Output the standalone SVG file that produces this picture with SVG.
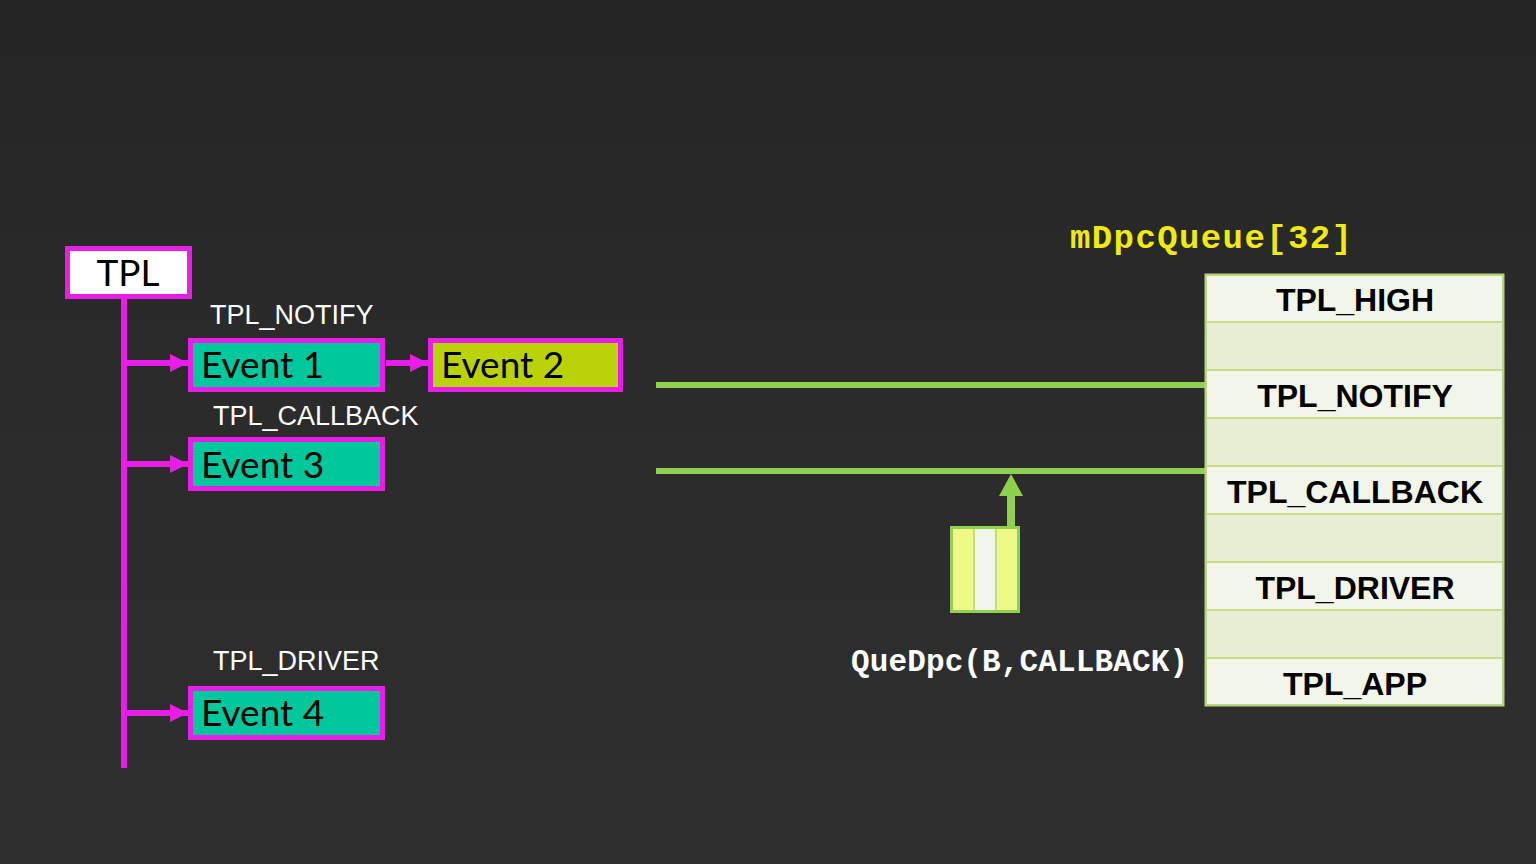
<svg xmlns="http://www.w3.org/2000/svg" width="1536" height="864" viewBox="0 0 1536 864">
  <defs>
    <linearGradient id="bg" x1="0" y1="0" x2="0" y2="1">
      <stop offset="0" stop-color="#252525"/>
      <stop offset="0.45" stop-color="#2b2b2b"/>
      <stop offset="1" stop-color="#2f2f2f"/>
    </linearGradient>
    <marker id="mag" viewBox="0 0 18 18" refX="18" refY="9" markerWidth="18" markerHeight="18" markerUnits="userSpaceOnUse" orient="auto">
      <path d="M0,0 L18,9 L0,18 Z" fill="#e81ee8"/>
    </marker>
    <style>
      .ev { stroke: #e81ee8; stroke-width: 5; }
      .evt { font-family: Lato, "Open Sans", sans-serif; font-size: 37px; fill: #000; }
      .lbl { font-family: "Liberation Sans", Arial, sans-serif; font-size: 27px; fill: #fff; }
      .mag { stroke: #e81ee8; stroke-width: 6; fill: none; }
      .grn { stroke: #8fd050; stroke-width: 6; fill: none; }
      .rowA { fill: #f2f6e8; stroke: #c8dc8c; stroke-width: 2; }
      .rowB { fill: #e6edd2; stroke: #c8dc8c; stroke-width: 2; }
      .rt { font-family: "Liberation Sans", Arial, sans-serif; font-weight: bold; font-size: 32px; fill: #000; text-anchor: middle; }
      .mono { font-family: "Liberation Mono", "Courier New", monospace; font-weight: bold; }
    </style>
  </defs>

  <rect x="0" y="0" width="1536" height="864" fill="url(#bg)"/>

  <g id="connectors">
    <line class="mag" x1="124" y1="299" x2="124" y2="768"/>
    <line class="mag" x1="124" y1="363" x2="188" y2="363" marker-end="url(#mag)"/>
    <line class="mag" x1="124" y1="464" x2="188" y2="464" marker-end="url(#mag)"/>
    <line class="mag" x1="124" y1="713" x2="188" y2="713" marker-end="url(#mag)"/>
    <line class="mag" x1="386" y1="363" x2="428" y2="363" marker-end="url(#mag)"/>
    <line class="grn" x1="656" y1="385" x2="1206" y2="385"/>
    <line class="grn" x1="656" y1="471" x2="1206" y2="471"/>
    <line x1="1011" y1="527" x2="1011" y2="494" stroke="#8fd050" stroke-width="8"/>
    <polygon points="999,496 1023,496 1011,474" fill="#8fd050"/>
  </g>

  <g id="tpl">
    <rect x="67.5" y="248.5" width="122" height="48" fill="#fff" class="ev"/>
    <text x="128" y="286" text-anchor="middle" class="evt">TPL</text>
  </g>

  <g id="labels">
    <text x="210" y="324" class="lbl">TPL_NOTIFY</text>
    <text x="213" y="425" class="lbl">TPL_CALLBACK</text>
    <text x="213" y="670" class="lbl">TPL_DRIVER</text>
  </g>

  <g id="event1">
    <rect x="190.5" y="340.5" width="192" height="49" fill="#00c89c" class="ev"/>
    <text x="201" y="378" class="evt">Event 1</text>
  </g>
  <g id="event2">
    <rect x="430.5" y="340.5" width="190" height="49" fill="#bad208" class="ev"/>
    <text x="441" y="378" class="evt">Event 2</text>
  </g>
  <g id="event3">
    <rect x="190.5" y="439.5" width="192" height="49" fill="#00c89c" class="ev"/>
    <text x="201" y="478" class="evt">Event 3</text>
  </g>
  <g id="event4">
    <rect x="190.5" y="688.5" width="192" height="49" fill="#00c89c" class="ev"/>
    <text x="201" y="726" class="evt">Event 4</text>
  </g>

  <g id="dpc">
    <rect x="952" y="528" width="66" height="83" fill="#f0f7e4" stroke="#8fd050" stroke-width="4"/>
    <rect x="953" y="529" width="20" height="81" fill="#eefa86"/>
    <rect x="975" y="529" width="20" height="81" fill="#f2f6e8"/>
    <rect x="997" y="529" width="20" height="81" fill="#eefa86"/>
    <line x1="974" y1="529" x2="974" y2="610" stroke="#c8dc70" stroke-width="2"/>
    <line x1="996" y1="529" x2="996" y2="610" stroke="#c8dc70" stroke-width="2"/>
    <text x="851" y="671" class="mono" font-size="31" fill="#fff" textLength="337" lengthAdjust="spacing">QueDpc(B,CALLBACK)</text>
  </g>

  <g id="queue">
    <text x="1070" y="248" class="mono" font-size="34" fill="#f0ea10" textLength="282" lengthAdjust="spacing">mDpcQueue[32]</text>
    <rect class="rowA" x="1206" y="275" width="297" height="47"/>
    <rect class="rowB" x="1206" y="322" width="297" height="48"/>
    <rect class="rowA" x="1206" y="370" width="297" height="48"/>
    <rect class="rowB" x="1206" y="418" width="297" height="48"/>
    <rect class="rowA" x="1206" y="466" width="297" height="48"/>
    <rect class="rowB" x="1206" y="514" width="297" height="48"/>
    <rect class="rowA" x="1206" y="562" width="297" height="48"/>
    <rect class="rowB" x="1206" y="610" width="297" height="48"/>
    <rect class="rowA" x="1206" y="658" width="297" height="47"/>
    <rect x="1205.5" y="274.5" width="298" height="431" fill="none" stroke="#b4d47c" stroke-width="2"/>
    <text class="rt" x="1355" y="311">TPL_HIGH</text>
    <text class="rt" x="1355" y="407">TPL_NOTIFY</text>
    <text class="rt" x="1355" y="503">TPL_CALLBACK</text>
    <text class="rt" x="1355" y="599">TPL_DRIVER</text>
    <text class="rt" x="1355" y="695">TPL_APP</text>
  </g>
</svg>
